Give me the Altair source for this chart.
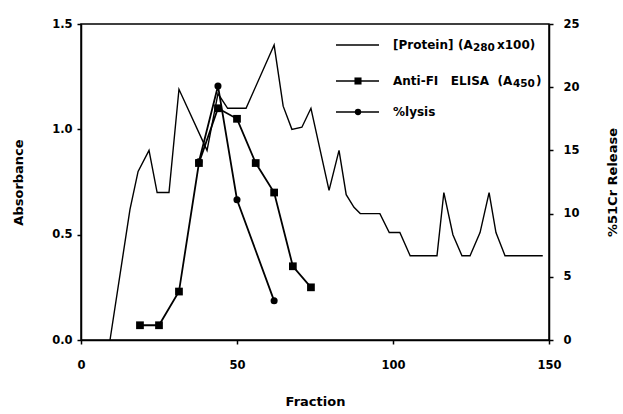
import altair as alt
import pandas as pd

# ---- data ----
protein_fraction = [9.3, 15.7, 18.3, 21.8, 24.4, 28.2, 31.4, 40.4, 43.9, 47.0, 52.9,
                    61.9, 64.8, 67.6, 70.8, 73.7, 79.5, 82.7, 85.0, 87.5, 89.5, 95.8,
                    98.8, 102.2, 105.5, 114.1, 116.3, 119.2, 122.1, 124.7, 127.9,
                    130.8, 133.0, 135.9, 148.0]
protein_abs = [0.0, 0.62, 0.80, 0.90, 0.70, 0.70, 1.19, 0.90, 1.17, 1.10, 1.10,
               1.40, 1.11, 1.00, 1.01, 1.10, 0.71, 0.90, 0.69, 0.63, 0.60, 0.60,
               0.51, 0.51, 0.40, 0.40, 0.70, 0.50, 0.40, 0.40, 0.51,
               0.70, 0.51, 0.40, 0.40]

elisa_fraction = [18.9, 25.0, 31.4, 37.8, 43.9, 50.0, 56.0, 61.9, 67.9, 73.7]
elisa_abs = [0.07, 0.07, 0.23, 0.84, 1.10, 1.05, 0.84, 0.70, 0.35, 0.25]

lysis_fraction = [37.8, 43.9, 50.0, 61.9]
lysis_pct = [14.1, 20.1, 11.1, 3.1]

NB = "\u00a0"
# legend text pieces: (text, is_subscript)
legend_rows = [
    [("[Protein]", False), ("(A", False), ("280", True), ("x100)", False)],
    [("Anti-FI" + NB + NB + " ELISA" + NB + " (A", False), ("450", True), (")", False)],
    [("%lysis", False)],
]

x_ticks = [0, 50, 100, 150]
left_ticks = [0.0, 0.5, 1.0, 1.5]
right_ticks = [0, 5, 10, 15, 20, 25]

FONT = "DejaVu Sans"

protein_df = pd.DataFrame({"fraction": protein_fraction, "value": protein_abs})
elisa_df = pd.DataFrame({"fraction": elisa_fraction, "value": elisa_abs})
lysis_df = pd.DataFrame({"fraction": lysis_fraction, "value": lysis_pct})

x_enc = alt.X("fraction:Q",
              scale=alt.Scale(domain=[0, 150], nice=False),
              axis=alt.Axis(values=x_ticks, title="Fraction", grid=False, labelFlush=False,
                            labelPadding=15, titlePadding=25, tickSize=4))

y_left = alt.Y("value:Q",
               scale=alt.Scale(domain=[0, 1.5], nice=False),
               axis=alt.Axis(values=left_ticks, format=".1f", title="Absorbance",
                             grid=False, labelPadding=5, titlePadding=26, tickSize=4))

y_right = alt.Y("value:Q",
                scale=alt.Scale(domain=[0, 25], nice=False),
                axis=alt.Axis(values=right_ticks, title="%51Cr Release", orient="right",
                              grid=False, labelPadding=10, titlePadding=40, tickSize=4,
                              titleAngle=270))

protein = alt.Chart(protein_df).mark_line(color="black", strokeWidth=1.4).encode(
    x=x_enc, y=y_left, order="fraction:Q")

elisa_line = alt.Chart(elisa_df).mark_line(color="black", strokeWidth=1.8).encode(
    x=x_enc, y=y_left)
elisa_pts = alt.Chart(elisa_df).mark_point(shape="square", filled=True, color="black",
                                           size=60, opacity=1).encode(x=x_enc, y=y_left)

lysis_line = alt.Chart(lysis_df).mark_line(color="black", strokeWidth=1.8).encode(
    x=x_enc, y=y_right)
lysis_pts = alt.Chart(lysis_df).mark_point(shape="circle", filled=True, color="black",
                                           size=50, opacity=1).encode(x=x_enc, y=y_right)

# ---- manual legend (inside the plot, top right) ----
legend_layers = []
row_y = [21, 57, 88]
markers = [None, "square", "circle"]
piece_x = [[312, 377, 392, 416], [312, 432, 455], [312]]
for pieces, xs, yy, mk in zip(legend_rows, piece_x, row_y, markers):
    ldf = pd.DataFrame({"label": ["".join(p for p, _ in pieces)]})
    legend_layers.append(
        alt.Chart(ldf).mark_rule(color="black", strokeWidth=1.4).encode(
            x=alt.value(255), x2=alt.value(298), y=alt.value(yy)))
    if mk is not None:
        legend_layers.append(
            alt.Chart(ldf).mark_point(shape=mk, filled=True, color="black",
                                      size=50 if mk == "square" else 40, opacity=1).encode(
                x=alt.value(277), y=alt.value(yy)))
    for (txt, sub), px in zip(pieces, xs):
        pdf = pd.DataFrame({"t": [txt]})
        legend_layers.append(
            alt.Chart(pdf).mark_text(align="left", baseline="middle", font=FONT,
                                     fontSize=10.5 if sub else 12, fontWeight="bold",
                                     color="black", dy=3 if sub else 0).encode(
                x=alt.value(px), y=alt.value(yy), text="t:N"))

left_group = alt.layer(protein, elisa_line, elisa_pts, *legend_layers)
right_group = alt.layer(lysis_line, lysis_pts)

chart = alt.layer(left_group, right_group).resolve_scale(y="independent").properties(
    width=468, height=316,
    padding={"left": 12, "top": 18, "right": 0, "bottom": 0},
    background="white",
).configure_view(
    stroke="black", strokeWidth=1.5
).configure_axis(
    domainColor="black", domainWidth=1.5, tickColor="black", tickWidth=1.5,
    labelFont=FONT, labelFontSize=11.5, labelFontWeight="bold", labelColor="black",
    titleFont=FONT, titleFontSize=13, titleFontWeight="bold", titleColor="black",
)

chart.save("out.html", embed_options={"renderer": "svg", "actions": False})
